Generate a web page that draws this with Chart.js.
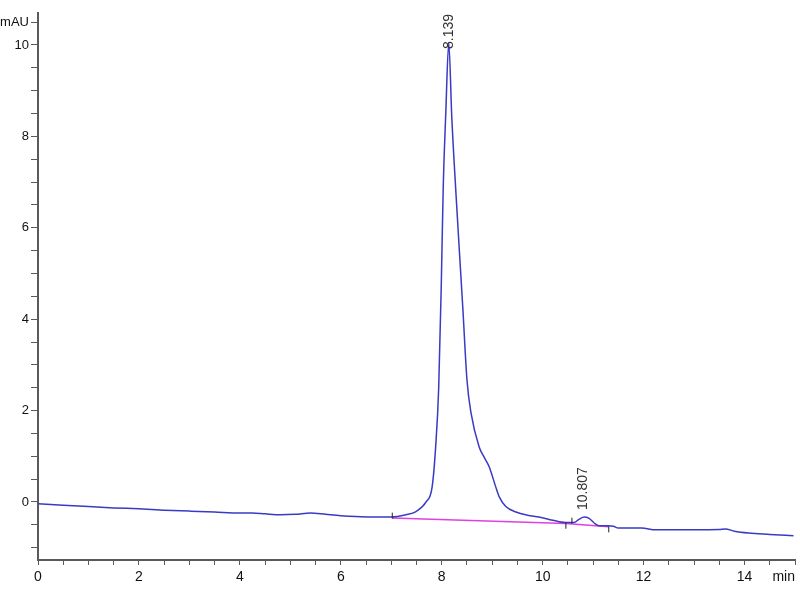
<!DOCTYPE html>
<html>
<head>
<meta charset="utf-8">
<script src="https://cdn.jsdelivr.net/npm/chart.js@4"></script>
<style>
  html, body { margin: 0; padding: 0; background: #fff; }
  #wrap { width: 800px; height: 600px; }
</style>
</head>
<body>
<div id="wrap"><canvas id="myChart" width="800" height="600"></canvas></div>
<script>
// retention time (min) and detector signal (mAU)
const times = [0, 0.5, 1, 1.5, 2, 2.5, 3, 3.5, 4, 4.25, 4.5, 4.8, 5.1, 5.4, 5.7, 6, 6.3, 6.6, 7, 7.29, 7.49, 7.69, 7.81, 7.88, 7.94, 7.99, 8.03, 8.08, 8.139, 8.2, 8.29, 8.42, 8.5, 8.58, 8.74, 8.84, 8.94, 9.07, 9.14, 9.27, 9.47, 9.7, 9.93, 10.2, 10.45, 10.62, 10.72, 10.82, 10.92, 11.02, 11.12, 11.3, 11.4, 11.5, 11.7, 11.96, 12.24, 12.6, 13.09, 13.5, 13.62, 13.8, 14.08, 14.5, 14.97];
const signal = [-0.04, -0.07, -0.1, -0.13, -0.15, -0.18, -0.2, -0.22, -0.24, -0.24, -0.26, -0.28, -0.27, -0.24, -0.27, -0.3, -0.32, -0.33, -0.33, -0.28, -0.21, 0.0, 0.33, 1.21, 2.5, 4.7, 6.9, 8.5, 10.05, 8.4, 6.6, 4.2, 2.67, 1.95, 1.21, 0.98, 0.77, 0.33, 0.11, -0.1, -0.22, -0.29, -0.33, -0.4, -0.45, -0.45, -0.38, -0.33, -0.36, -0.46, -0.52, -0.52, -0.53, -0.57, -0.57, -0.57, -0.61, -0.61, -0.61, -0.6, -0.59, -0.64, -0.68, -0.71, -0.74];

// integration baseline
const baseTimes = [7.02, 10.46, 11.31];
const baseValues = [-0.35, -0.47, -0.54];

// peak start / end markers
const eventTimes = [7.02, 10.46, 10.58, 11.31];
const eventLevels = [-0.30, -0.52, -0.41, -0.60];

// peak labels
const peakTimes = [8.139, 10.807];
const peakHeights = [10.05, -0.33];
const peakLabels = ["8.139", "10.807"];

// axes
const xTicks = [];
for (let i = 0; i <= 30; i++) xTicks.push(i * 0.5);
const yTicks = [];
for (let i = -2; i <= 21; i++) yTicks.push(i * 0.5);
const xUnit = "min";
const yUnit = "mAU";

const fontFamily = "'Liberation Sans', Arial, sans-serif";
const axisColor = "#5a5a5a";

const annotate = {
  id: "annotate",
  afterDatasetsDraw(chart) {
    const ctx = chart.ctx;
    const x = chart.scales.x;
    const y = chart.scales.y;
    const area = chart.chartArea;
    ctx.save();
    ctx.fillStyle = "#333";
    ctx.font = "14px " + fontFamily;
    for (let i = 0; i < peakTimes.length; i++) {
      const px = x.getPixelForValue(peakTimes[i]);
      const w = ctx.measureText(peakLabels[i]).width;
      let py = y.getPixelForValue(peakHeights[i]) - 7;
      py = Math.max(py, area.top + w + 1);
      ctx.save();
      ctx.translate(px, py);
      ctx.rotate(-Math.PI / 2);
      ctx.textAlign = "left";
      ctx.textBaseline = "middle";
      ctx.fillText(peakLabels[i], 0, 0);
      ctx.restore();
    }
    ctx.fillStyle = "#111";
    ctx.textAlign = "right";
    ctx.textBaseline = "top";
    ctx.fillText(xUnit, area.right, area.bottom + 10);
    ctx.restore();
  }
};

let ctx = document.getElementById("myChart").getContext("2d");
let myChart = new Chart(ctx, {
  type: "line",
  data: {
    datasets: [
      {
        label: "signal",
        data: times.map((t, i) => ({ x: t, y: signal[i] })),
        borderColor: "#3a3ac4",
        borderWidth: 1.5,
        pointRadius: 0,
        cubicInterpolationMode: "monotone",
        order: 1,
      },
      {
        label: "baseline",
        data: baseTimes.map((t, i) => ({ x: t, y: baseValues[i] })),
        borderColor: "#e040e0",
        borderWidth: 1.5,
        pointRadius: 0,
        order: 2,
      },
      {
        label: "events",
        type: "scatter",
        data: eventTimes.map((t, i) => ({ x: t, y: eventLevels[i] })),
        pointStyle: "line",
        rotation: 90,
        radius: 3,
        borderColor: "#222",
        borderWidth: 1,
        order: 0,
      },
    ],
  },
  options: {
    responsive: false,
    animation: false,
    layout: { padding: { top: 13, right: 3, left: 0, bottom: 0 } },
    plugins: { legend: { display: false }, tooltip: { enabled: false } },
    scales: {
      x: {
        type: "linear",
        min: 0,
        max: 15,
        afterBuildTicks: (s) => { s.ticks = xTicks.map((v) => ({ value: v })); },
        afterFit: (s) => { s.height = 40; },
        grid: { drawOnChartArea: false, drawTicks: true, tickLength: 5, color: axisColor, lineWidth: 1 },
        border: { display: true, color: axisColor, width: 2 },
        ticks: {
          autoSkip: false,
          maxRotation: 0,
          padding: 4,
          color: "#111",
          font: { family: fontFamily, size: 14 },
          callback: (v) => (v % 2 === 0 && v < 15 ? String(v) : ""),
        },
      },
      y: {
        type: "linear",
        min: -1.27,
        max: 10.7,
        afterBuildTicks: (s) => { s.ticks = yTicks.map((v) => ({ value: v })); },
        afterFit: (s) => { s.width = 38; },
        grid: { drawOnChartArea: false, drawTicks: true, tickLength: 7, color: axisColor, lineWidth: 1 },
        border: { display: true, color: axisColor, width: 2 },
        ticks: {
          autoSkip: false,
          padding: 2,
          color: "#111",
          font: { family: fontFamily, size: 13 },
          callback: (v) => (v === 10.5 ? yUnit : v % 2 === 0 ? String(v) : ""),
        },
      },
    },
  },
  plugins: [annotate],
});
</script>
</body>
</html>
